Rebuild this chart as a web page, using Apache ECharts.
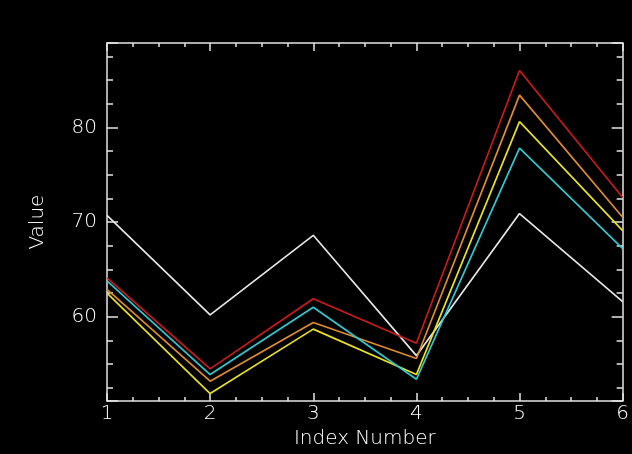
<!DOCTYPE html>
<html>
<head>
<meta charset="utf-8">
<script src="https://cdn.jsdelivr.net/npm/echarts@6/dist/echarts.min.js"></script>
<style>
html,body{margin:0;padding:0;background:#000;}
#chart{width:632px;height:454px;}
</style>
</head>
<body>
<div id="chart"></div>
<script>
var indexNumbers = [1, 2, 3, 4, 5, 6];
var whiteSeries  = [70.7, 60.2, 68.6, 55.9, 70.9, 61.6];
var redSeries    = [64.1, 54.5, 61.9, 57.2, 86.0, 72.6];
var orangeSeries = [62.9, 53.2, 59.4, 55.6, 83.4, 70.5];
var yellowSeries = [62.5, 51.9, 58.7, 53.9, 80.6, 69.1];
var cyanSeries   = [63.8, 53.9, 61.0, 53.4, 77.8, 67.2];
var yTickValues  = [60, 70, 80];

var axisColor = '#e6e6e6';
var textColor = '#ffffff';
var fontFam = 'DejaVu Sans';

function pairs(arr) {
  return indexNumbers.map(function (x, i) { return [x, arr[i]]; });
}
function lineSeries(name, arr, color) {
  return {
    name: name, type: 'line', data: pairs(arr), symbol: 'none',
    lineStyle: { color: color, width: 1.7 }, animation: false, silent: true
  };
}
function xAx(pos, showLabels) {
  return {
    type: 'value', position: pos, min: 1, max: 6, interval: 1,
    name: showLabels ? 'Index Number' : '',
    nameLocation: 'middle', nameGap: 25,
    nameTextStyle: { color: textColor, fontSize: 20, fontFamily: fontFam, fontWeight: 200 },
    axisLine: { show: true, onZero: false, lineStyle: { color: axisColor, width: 1.5 } },
    axisTick: { show: true, inside: true, length: 8, lineStyle: { color: axisColor, width: 1.5 } },
    minorTick: { show: true, splitNumber: 4, length: 4, lineStyle: { color: axisColor, width: 1.5 } },
    axisLabel: { show: showLabels, color: textColor, fontSize: 20, fontFamily: fontFam, fontWeight: 200, margin: 3 },
    splitLine: { show: false }
  };
}
function yAx(pos, showLabels) {
  return {
    type: 'value', position: pos, min: 51.1, max: 88.9,
    name: showLabels ? 'Value' : '',
    nameLocation: 'middle', nameGap: 59, nameRotate: 90,
    nameTextStyle: { color: textColor, fontSize: 20, fontFamily: fontFam, fontWeight: 200 },
    axisLine: { show: true, onZero: false, lineStyle: { color: axisColor, width: 1.5 } },
    axisTick: { show: true, inside: true, length: 11, lineStyle: { color: axisColor, width: 1.5 } },
    minorTick: { show: true, splitNumber: 4, length: 6, lineStyle: { color: axisColor, width: 1.5 } },
    axisLabel: {
      show: showLabels, color: textColor, fontSize: 20, fontFamily: fontFam, fontWeight: 200, margin: 10,
      showMinLabel: false, showMaxLabel: false,
      formatter: function (v) { return yTickValues.indexOf(v) >= 0 ? String(v) : ''; }
    },
    splitLine: { show: false }
  };
}

var chart = echarts.init(document.getElementById('chart'), null, { renderer: 'canvas' });
chart.setOption({
  backgroundColor: '#000',
  animation: false,
  grid: { left: 107, right: 6, top: 43, bottom: 52, containLabel: false },
  xAxis: [xAx('bottom', true), xAx('top', false)],
  yAxis: [yAx('left', true), yAx('right', false)],
  series: [
    lineSeries('white', whiteSeries, '#e6e6e6'),
    lineSeries('yellow', yellowSeries, '#e8e020'),
    lineSeries('orange', orangeSeries, '#e08c2c'),
    lineSeries('cyan', cyanSeries, '#30c8d0'),
    lineSeries('red', redSeries, '#cc1a1a')
  ]
});
</script>
</body>
</html>
